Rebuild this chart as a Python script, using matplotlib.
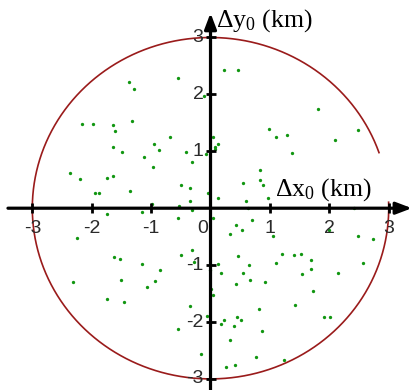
import numpy as np
import matplotlib
matplotlib.use("Agg")
import matplotlib.pyplot as plt

plt.rcParams["mathtext.fontset"] = "custom"
plt.rcParams["mathtext.rm"] = "Liberation Serif"
plt.rcParams["mathtext.it"] = "Liberation Serif:italic"

# scattered points (km)
dx0 = [-1.38, -1.29, -0.54, -0.11, -2.16, -1.97, -1.64, -1.60, -1.32, -0.68,
       -0.95, -0.87, -1.65, -1.49, -1.12, -0.97, -0.42, -0.32, -0.08, -2.37,
       -2.19, -1.75, -1.64, -1.36, -1.94, -1.87, -0.50, -0.35, 0.22, 0.47,
       1.81, 0.99, 1.11, 1.29, 2.10, 2.49, 1.38, 0.04, 0.13, 0.08,
       0.07, 0.83, 0.84, 0.88, 0.54, -0.04, -0.98, -0.53, -0.35, 0.13,
       0.60, 0.97, -0.32, -1.15, -0.55, -1.75, 0.63, 2.42, -2.24, -1.62,
       -1.52, -1.15, -0.85, -0.50, -0.31, -0.28, -2.32, -1.51, -0.93, -1.07,
       -1.75, -1.46, -0.35, -0.55, -0.16, 0.05, 0.69, 0.43, 0.53, 0.32,
       1.05, 2.00, 2.48, 2.74, 0.47, 1.20, 1.41, 1.53, 1.69, 1.11,
       0.65, 0.12, -0.01, 0.18, 0.54, 1.70, 1.54, 2.57, 2.15, 0.43,
       0.67, 0.92, 0.00, 0.05, 1.72, 1.43, 0.82, -0.06, 0.22, 0.18,
       0.44, 0.51, 0.39, 1.91, 2.01, 0.86, 0.33, 0.77, 1.23, 0.26,
       0.41]
dy0 = [2.21, 2.09, 2.28, 1.98, 1.48, 1.48, 1.47, 1.36, 1.54, 1.25,
       1.13, 1.03, 1.08, 0.99, 0.90, 0.73, 0.99, 0.81, 0.96, 0.62,
       0.51, 0.53, 0.57, 0.30, 0.27, 0.26, 0.40, 0.36, 2.43, 2.43,
       1.74, 1.39, 1.25, 1.29, 1.19, 1.37, 0.97, 1.25, 1.13, 1.08,
       1.04, 0.68, 0.50, 0.40, 0.44, 0.27, 0.08, 0.03, 0.13, 0.18,
       0.13, 0.18, -0.04, -0.07, -0.17, -0.11, 0.00, 0.01, -0.52, -0.86,
       -0.90, -0.98, -1.09, -0.82, -0.73, -0.95, -1.30, -1.26, -1.28, -1.38,
       -1.60, -1.65, -1.72, -2.12, -2.57, -0.17, -0.21, -0.30, -0.38, -0.45,
       -0.48, -0.38, -0.48, -0.55, -0.84, -0.81, -0.82, -0.81, -0.91, -0.97,
       -0.99, -0.98, -1.09, -1.14, -1.14, -1.06, -1.16, -0.97, -1.14, -1.33,
       -1.26, -1.29, -1.42, -1.52, -1.46, -1.70, -1.77, -1.89, -1.96, -2.04,
       -1.91, -1.96, -2.07, -1.92, -1.92, -2.15, -2.32, -2.62, -2.66, -2.79,
       -2.76]

radius = 3.0
arc_start, arc_end = 19, 362  # degrees
ticks = [-3, -2, -1, 1, 2, 3]
tick_labels = ["-3", "-2", "-1", "1", "2", "3"]

fig = plt.figure(figsize=(4.12, 3.90), dpi=100)
ax = fig.add_axes([0, 0, 1, 1])
ax.set_xlim(-3.544, 3.392)
ax.set_ylim(-3.195, 3.659)
ax.axis("off")

# circle arc
th = np.radians(np.linspace(arc_start, arc_end, 500))
ax.plot(radius * np.cos(th), radius * np.sin(th), color="#9a1b1b", lw=1.2, zorder=2)

# points
ax.plot(dx0, dy0, "o", color="#119611", ms=2.4, mew=0, zorder=3)

# axes with arrows
arrow = dict(arrowstyle="-|>,head_length=0.95,head_width=0.36", lw=2.3,
             color="black", mutation_scale=10, shrinkA=0, shrinkB=0)
ax.annotate("", xy=(3.39, 0), xytext=(-3.41, 0), arrowprops=arrow, zorder=4)
ax.annotate("", xy=(0, 3.43), xytext=(0, -3.2), arrowprops=arrow, zorder=4)

ax.plot(ticks, [0] * len(ticks), "|", color="black", ms=6.5, mew=2.0, zorder=4)
ax.plot([0] * len(ticks), ticks, "_", color="black", ms=6.5, mew=2.0, zorder=4)

lab = dict(family="Liberation Sans", fontsize=14, color="#2a2a2a")
for t, s in zip(ticks, tick_labels):
    ax.text(t, -0.36, s, ha="center", va="center", **lab)
    ax.text(-0.12, t, s, ha="right", va="center", **lab)
ax.text(-0.126, -0.36, "0", ha="center", va="center", **lab)

serif = dict(family="Liberation Serif", fontsize=18.5, color="black")
ax.text(0.10, 3.19, r"Δy$_0$ (km)", ha="left", va="baseline", **serif)
ax.text(1.08, 0.22, r"Δx$_0$ (km)", ha="left", va="baseline", **serif)

fig.savefig("out.png", dpi=100)
